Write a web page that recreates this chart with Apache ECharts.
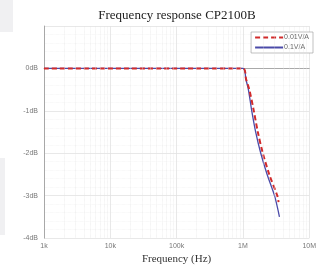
<!DOCTYPE html>
<html>
<head>
<meta charset="utf-8">
<script src="https://cdn.jsdelivr.net/npm/echarts@6/dist/echarts.min.js"></script>
<style>
  html, body { margin: 0; padding: 0; background: #fff; }
  #chart { width: 319px; height: 270px; }
</style>
</head>
<body>
<div id="chart"></div>
<script>
// 频率响应数据
const freqA = [1000, 1000000, 1120000, 1250000, 1460000, 1680000, 2000000, 2500000, 3300000, 3450000]
const gainA = [0, 0, -0.26, -0.5, -1, -1.5, -2, -2.5, -3, -3.15]
const freqB = [1000, 1000000, 1110000, 1210000, 1360000, 1560000, 1860000, 2320000, 3000000, 3560000]
const gainB = [0, 0, -0.26, -0.5, -1, -1.5, -2, -2.5, -3, -3.5]
const seriesNames = ['0.01V/A', '0.1V/A']
const xTickLabels = { 1000: '1k', 10000: '10k', 100000: '100k', 1000000: '1M', 10000000: '10M' }

// 对数轴次网格 2..9 × 10^n
const minorX = []
for (let d = 1000; d < 10000000; d *= 10) {
  for (let m = 2; m <= 9; m++) minorX.push(d * m)
}

const chart = echarts.init(document.getElementById('chart'))

const option = {
  animation: false,
  title: {
    text: 'Frequency response CP2100B',
    left: 172,
    textAlign: 'center',
    top: 4,
    textStyle: { fontFamily: 'Liberation Serif', fontWeight: 'normal', fontSize: 13, color: '#222' }
  },
  legend: {
    data: [
      { name: seriesNames[0] },
      { name: seriesNames[1] }
    ],
    orient: 'vertical',
    right: 6,
    top: 32,
    itemWidth: 28,
    itemHeight: 6,
    itemGap: 3,
    padding: [2, 4, 2, 3],
    backgroundColor: '#fff',
    borderColor: '#999',
    borderWidth: 0.6,
    borderRadius: 0,
    itemStyle: { opacity: 0 },
    textStyle: { fontSize: 7, color: '#666', fontFamily: 'Liberation Sans', padding: [0, 0, 0, -4] }
  },
  graphic: [
    { type: 'rect', shape: { x: 0, y: 0, width: 13, height: 32 }, style: { fill: '#f0f0f2' }, z: -10 },
    { type: 'rect', shape: { x: 0, y: 158, width: 5, height: 77 }, style: { fill: '#f0f0f2' }, z: -10 }
  ],
  grid: { left: 44, right: 6, top: 26, bottom: 30 },
  xAxis: {
    type: 'log',
    logBase: 10,
    min: 1000,
    max: 10000000,
    name: 'Frequency (Hz)',
    nameLocation: 'middle',
    nameGap: 14,
    nameTextStyle: { fontFamily: 'Liberation Serif', fontSize: 11, color: '#333' },
    axisLine: { lineStyle: { color: '#999', width: 0.8 } },
    axisTick: { show: false },
    axisLabel: {
      fontSize: 7, color: '#777', margin: 4, fontFamily: 'Liberation Sans',
      formatter: v => xTickLabels[Math.round(v)] || ''
    },
    splitLine: { show: true, lineStyle: { color: '#e2e2e2', width: 0.8 } }
  },
  yAxis: {
    type: 'value',
    min: -4,
    max: 1,
    interval: 1,
    axisLine: { show: true, lineStyle: { color: '#999', width: 0.8 } },
    axisTick: { show: false },
    axisLabel: {
      fontSize: 7, color: '#777', margin: 6, fontFamily: 'Liberation Sans',
      formatter: v => (v >= 1 ? '' : v + 'dB')
    },
    splitLine: { lineStyle: { color: '#e2e2e2', width: 0.8 } },
    minorTick: { show: false, splitNumber: 5 },
    minorSplitLine: { show: true, lineStyle: { color: '#eeeeee', width: 0.6, type: 'dotted' } }
  },
  series: [
    {
      name: 'grid-minor',
      type: 'line',
      data: [],
      silent: true,
      markLine: {
        silent: true,
        symbol: 'none',
        label: { show: false },
        lineStyle: { color: '#e4e4e4', width: 0.6, type: 'dotted' },
        data: minorX.map(f => ({ xAxis: f }))
      }
    },
    {
      name: seriesNames[1],
      type: 'line',
      data: freqB.map((f, i) => [f, gainB[i]]),
      smooth: 0.3,
      symbol: 'none',
      color: '#4a4aa8',
      lineStyle: { width: 1.3, color: '#4a4aa8' },
      z: 3
    },
    {
      name: seriesNames[0],
      type: 'line',
      data: freqA.map((f, i) => [f, gainA[i]]),
      smooth: 0.3,
      symbol: 'none',
      color: '#d12a2a',
      lineStyle: { width: 2, color: '#d12a2a', type: [5, 3] },
      z: 4
    }
  ]
}

chart.setOption(option)
</script>
</body>
</html>
